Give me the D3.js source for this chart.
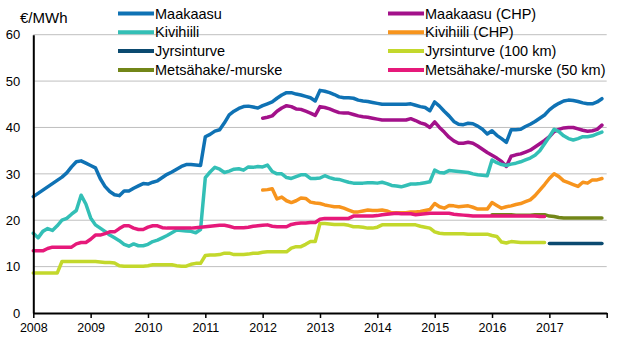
<!DOCTYPE html>
<html>
<head>
<meta charset="utf-8"/>
<script src="https://cdn.jsdelivr.net/npm/d3@7/dist/d3.min.js"></script>
<style>
  body { margin:0; background:#fff; }
  svg text { font-family:"Liberation Sans", Arial, sans-serif; fill:#000; }
  .grid line { stroke:#bfbfbf; stroke-width:1; }
  .axis path, .axis line { stroke:#000; }
</style>
</head>
<body>
<script>
// monthly prices, €/MWh (Jan 2008 - Dec 2017)
var years = ["2008","2009","2010","2011","2012","2013","2014","2015","2016","2017"];
var yTicks = [0, 10, 20, 30, 40, 50, 60];

var maakaasu = [
  25.1,25.8,26.5,27.2,27.9,28.6,29.3,30.2,31.5,32.6,32.8,32.3,
  31.8,31.3,29.0,27.3,26.2,25.5,25.3,26.3,26.3,26.9,27.4,27.9,
  27.8,28.2,28.5,29.2,29.9,30.4,31.0,31.6,32.0,32.0,31.9,31.8,
  38.0,38.5,39.2,39.5,41.0,42.7,43.5,44.1,44.5,44.6,44.4,44.2,
  44.7,45.1,45.5,46.3,47.0,47.5,47.5,47.2,47.0,46.7,46.4,45.7,
  48.0,47.8,47.5,47.1,46.6,46.4,46.4,46.3,45.9,45.7,45.6,45.4,
  45.2,45.0,45.0,45.0,45.0,45.0,45.0,45.1,44.8,44.5,44.3,43.6,
  45.5,44.6,43.5,42.5,41.3,40.7,40.6,40.9,40.8,40.3,39.6,38.6,
  39.3,38.3,37.6,36.8,39.5,39.5,39.6,40.2,40.7,41.3,42.0,42.7,
  43.8,44.6,45.2,45.7,45.9,45.8,45.6,45.3,45.1,45.1,45.5,46.2];

// from Jan 2012
var maakaasuChp = [
  42.0,42.2,42.5,43.5,44.2,44.7,44.5,44.0,43.9,43.5,43.1,42.6,
  44.5,44.3,44.0,43.6,43.2,43.1,43.1,42.8,42.5,42.3,42.2,42.0,
  41.8,41.6,41.6,41.6,41.6,41.6,41.6,41.9,41.5,41.0,40.7,40.0,
  41.2,40.0,39.0,37.9,37.1,36.6,36.6,36.8,36.6,36.0,35.3,34.6,
  34.0,33.4,32.7,31.6,33.8,34.1,34.3,34.7,35.1,35.8,36.5,37.2,
  38.0,39.1,39.6,39.9,40.0,40.0,39.7,39.4,39.2,39.3,39.6,40.5];

var kivihiili = [
  17.2,16.2,17.6,18.2,17.8,18.8,20.0,20.4,21.3,22.1,25.4,23.5,
  20.5,19.0,18.3,17.6,16.8,16.2,15.6,14.8,14.4,14.9,14.5,14.5,
  14.8,15.4,15.7,16.2,16.7,17.3,17.9,17.8,17.7,17.6,17.3,18.0,
  29.2,30.4,31.4,31.0,30.3,30.6,31.0,31.1,30.8,31.5,31.4,31.6,
  31.5,31.9,30.5,30.0,30.0,29.2,29.0,29.4,29.8,29.8,29.0,29.0,
  29.1,29.6,29.2,28.9,28.8,28.5,28.2,28.0,28.0,28.0,28.1,28.1,
  28.0,28.2,27.9,27.5,27.4,27.2,27.5,27.8,27.8,27.9,28.1,28.3,
  30.8,30.3,30.2,30.7,30.6,30.5,30.4,30.3,30.0,29.8,29.7,29.6,
  33.0,32.4,32.0,31.8,32.1,32.3,32.6,33.0,33.4,34.0,35.0,36.5,
  38.0,39.6,39.1,38.2,37.6,37.3,37.6,38.0,38.0,38.2,38.6,39.0];

// from Jan 2012
var kivihiiliChp = [
  26.5,26.6,26.8,24.6,25.0,24.2,23.8,24.2,24.8,24.7,23.9,23.7,
  23.6,23.3,23.1,22.9,22.9,22.6,22.2,21.8,21.8,22.0,22.2,22.1,
  22.1,22.2,22.0,21.6,21.6,21.6,21.6,21.8,21.8,21.9,22.1,22.3,
  23.6,22.9,22.6,23.2,23.1,22.9,23.0,23.1,22.8,22.4,22.4,22.4,
  23.8,23.2,22.6,22.9,23.1,23.4,23.6,24.0,24.4,25.3,26.5,27.7,
  29.0,30.0,29.4,28.5,28.1,27.7,27.3,28.2,28.0,28.7,28.7,29.0];

// from Jan 2017
var jyrsinturve = [15.0,15.0,15.0,15.0,15.0,15.0,15.0,15.0,15.0,15.0,15.0,15.0];

// Jan 2008 - Dec 2016
var jyrsinturve100 = [
  8.6,8.6,8.6,8.6,8.6,8.6,11.1,11.1,11.1,11.1,11.1,11.1,
  11.1,11.1,11.0,10.9,10.9,10.8,10.2,10.1,10.1,10.1,10.1,10.1,
  10.2,10.4,10.4,10.4,10.4,10.4,10.2,10.1,10.1,10.5,10.7,10.7,
  12.4,12.5,12.5,12.6,12.9,12.9,12.6,12.6,12.6,12.7,12.9,12.9,
  13.1,13.2,13.2,13.2,13.2,13.2,14.0,14.3,14.3,14.8,15.4,15.4,
  19.3,19.3,19.2,19.1,19.1,19.1,18.9,18.6,18.6,18.5,18.3,18.3,
  18.5,19.0,19.0,19.0,19.0,19.0,19.0,19.0,19.0,18.7,18.5,18.3,
  17.5,17.2,17.1,17.1,17.1,17.1,17.1,17.0,17.0,17.0,17.0,17.0,
  16.7,16.5,15.3,15.1,15.4,15.3,15.2,15.2,15.2,15.2,15.2,15.2];

// from Jan 2016
var metsahake = [
  21.2,21.2,21.2,21.2,21.2,21.1,21.1,21.1,21.1,21.2,21.2,21.2,
  20.9,20.8,20.6,20.5,20.5,20.5,20.5,20.5,20.5,20.5,20.5,20.5];

// Jan 2008 - Dec 2016
var metsahake50 = [
  13.4,13.4,13.4,13.9,14.2,14.2,14.2,14.2,14.2,14.9,15.2,15.2,
  15.9,16.8,16.8,17.1,17.5,17.5,18.2,18.8,18.8,18.3,18.0,18.0,
  18.5,18.8,18.8,18.4,18.3,18.3,18.3,18.3,18.3,18.3,18.4,18.5,
  18.6,18.7,18.8,18.9,18.9,18.7,18.4,18.4,18.4,18.5,18.7,18.8,
  18.9,19.0,18.7,18.6,18.6,18.6,19.1,19.3,19.4,19.4,19.5,19.5,
  20.2,20.4,20.4,20.4,20.4,20.4,20.4,20.9,20.9,20.9,20.9,20.9,
  21.0,21.2,21.3,21.4,21.5,21.4,21.4,21.4,21.2,21.3,21.4,21.5,
  21.5,21.5,21.5,21.5,21.3,21.2,21.1,21.0,20.9,20.9,20.9,20.9,
  20.9,20.9,20.9,20.9,20.9,20.9,20.9,20.9,20.9,20.9,20.8,20.8];

var seriesNames = ["Maakaasu", "Maakaasu (CHP)", "Kivihiili", "Kivihiili (CHP)",
  "Jyrsinturve", "Jyrsinturve (100 km)", "Metsähake/-murske", "Metsähake/-murske (50 km)"];
var seriesData = [maakaasu, maakaasuChp, kivihiili, kivihiiliChp,
  jyrsinturve, jyrsinturve100, metsahake, metsahake50];
var seriesStartYear = [2008, 2012, 2008, 2012, 2017, 2008, 2016, 2008];
var colors = ["#0f72b4", "#a3118a", "#33bfb6", "#f7941d",
  "#0b4a70", "#c3d82c", "#728618", "#e6197a"];

var width = 629, height = 363;
var plotLeft = 33.3, plotRight = 606.7, plotTop = 34.7, plotBottom = 313;

var svg = d3.select("body").append("svg")
  .attr("width", width)
  .attr("height", height);

// month index since Jan 2008
var x = d3.scaleLinear().domain([0, 120]).range([plotLeft, plotRight]);
var y = d3.scaleLinear().domain([0, 60]).range([plotBottom, plotTop]);

// gridlines
svg.append("g")
  .attr("class", "grid")
  .selectAll("line")
  .data(yTicks.slice(1))
  .enter().append("line")
  .attr("x1", plotLeft).attr("x2", plotRight)
  .attr("y1", d => y(d)).attr("y2", d => y(d));

var line = d3.line()
  .x(d => x(d.m))
  .y(d => y(d.v));

seriesData.forEach(function(arr, i) {
  var off = (seriesStartYear[i] - 2008) * 12;
  var pts = arr.map((v, j) => ({m: off + j, v: v}));
  svg.append("path")
    .datum(pts)
    .attr("fill", "none")
    .attr("stroke", colors[i])
    .attr("stroke-width", 3.5)
    .attr("stroke-linejoin", "round")
    .attr("stroke-linecap", "round")
    .attr("d", line);
});

// y axis
var yAxis = svg.append("g")
  .attr("class", "axis")
  .attr("transform", "translate(" + plotLeft + ",0)")
  .call(d3.axisLeft(y).tickValues(yTicks).tickSize(0).tickPadding(13));
yAxis.select(".domain").attr("stroke-width", 2);
yAxis.selectAll("text").style("font-size", "13px");

// x axis
var xAxis = svg.append("g")
  .attr("class", "axis")
  .attr("transform", "translate(0," + plotBottom + ")")
  .call(d3.axisBottom(x)
    .tickValues(d3.range(0, 121, 12))
    .tickSize(5).tickSizeOuter(0).tickPadding(5)
    .tickFormat(d => years[d / 12] || ""));
xAxis.select(".domain").attr("stroke-width", 2);
xAxis.selectAll(".tick line").attr("stroke-width", 1.5);
xAxis.selectAll("text").style("font-size", "12.5px");

// unit label
svg.append("text")
  .attr("x", 20)
  .attr("y", 23)
  .style("font-size", "15px")
  .text("€/MWh");

// legend, two columns
var legend = svg.append("g");
seriesNames.forEach(function(name, i) {
  var col = i % 2, row = Math.floor(i / 2);
  var lx = col === 0 ? 118 : 388;
  var ly = 13.5 + row * 18.8;
  legend.append("line")
    .attr("x1", lx).attr("x2", lx + 36)
    .attr("y1", ly).attr("y2", ly)
    .attr("stroke", colors[i])
    .attr("stroke-width", 4);
  legend.append("text")
    .attr("x", lx + 37)
    .attr("y", ly + 5)
    .style("font-size", "14.5px")
    .text(name);
});
</script>
</body>
</html>
